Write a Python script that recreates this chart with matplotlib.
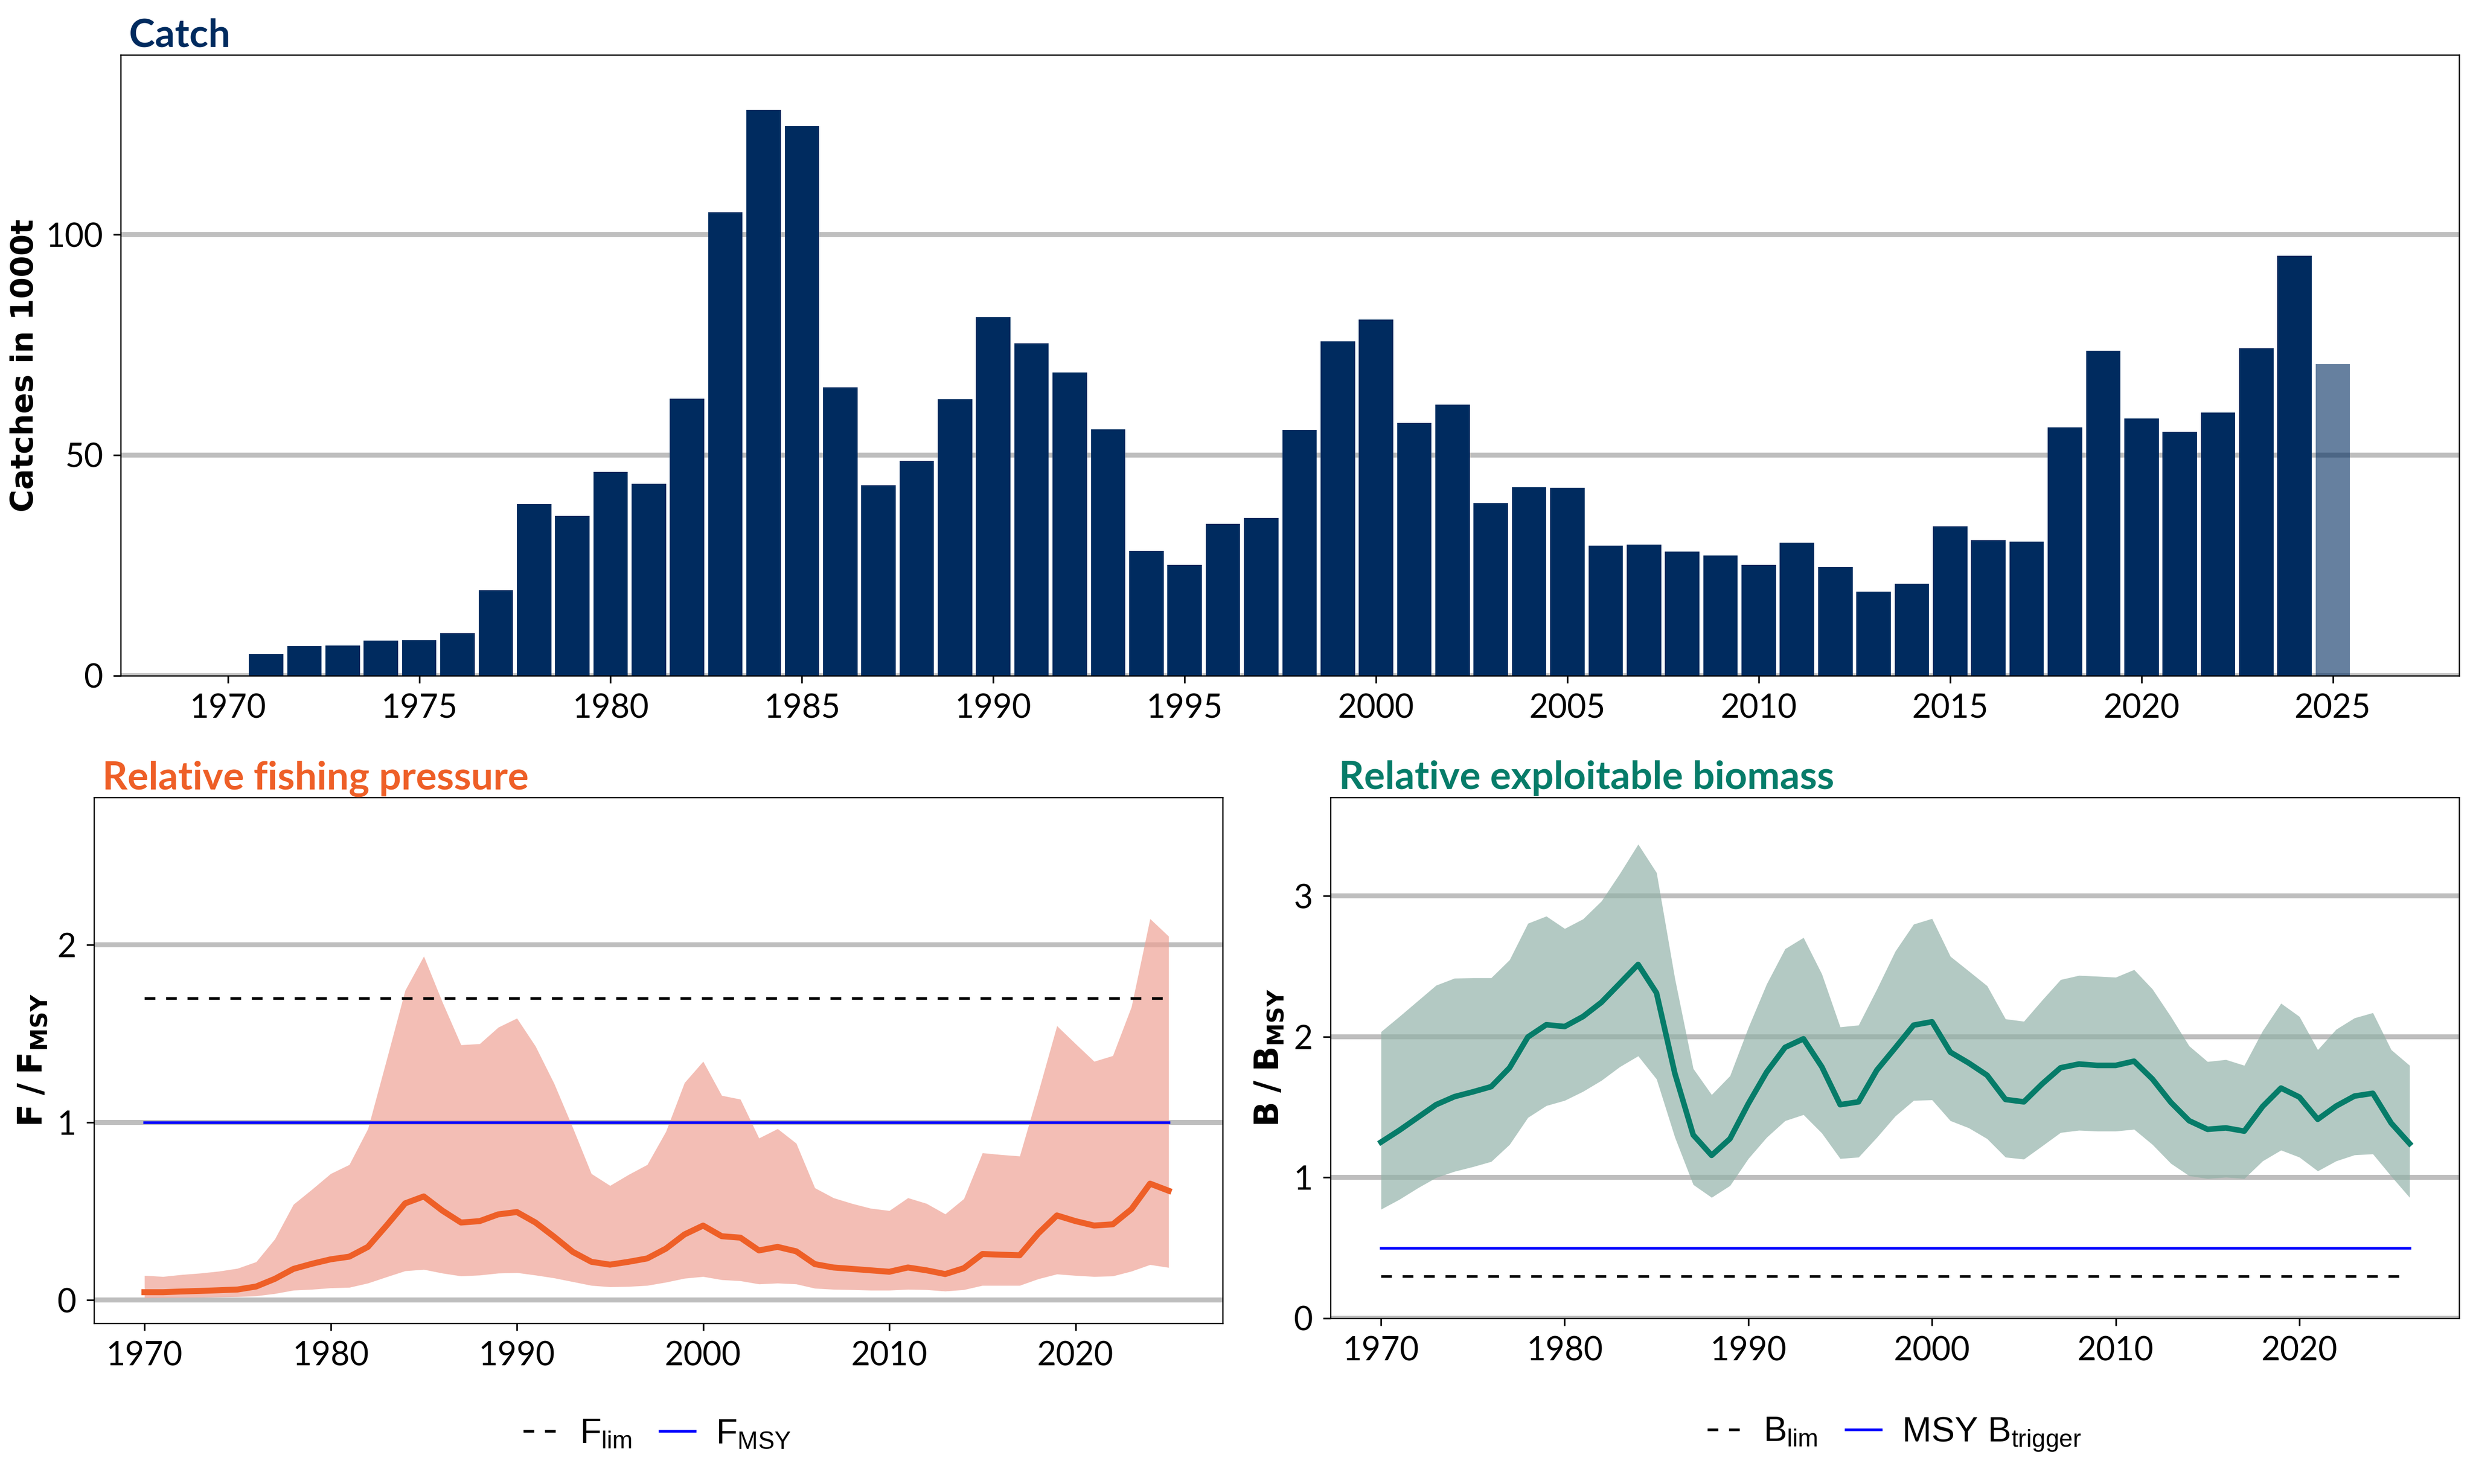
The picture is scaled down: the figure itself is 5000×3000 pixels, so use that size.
import numpy as np
import matplotlib
matplotlib.use("Agg")
import matplotlib.pyplot as plt

# ---- data ----
catch_years = list(range(1971, 2026))
catch = [4.9, 6.7, 6.8, 7.9, 8.1, 9.6, 19.4, 38.9, 36.2, 46.2,
         43.5, 62.8, 105.0, 128.3, 124.6, 65.3, 43.2, 48.6, 62.7, 81.3,
         75.3, 68.7, 55.8, 28.2, 25.1, 34.4, 35.7, 55.7, 75.8, 80.7,
         57.3, 61.4, 39.1, 42.7, 42.6, 29.5, 29.7, 28.1, 27.2, 25.1,
         30.1, 24.6, 19.1, 20.8, 33.9, 30.7, 30.4, 56.3, 73.6, 58.3,
         55.3, 59.6, 74.2, 95.2, 70.6]

f_years = list(range(1970, 2026))
f_mid = [0.045, 0.045, 0.049, 0.052, 0.056, 0.060, 0.077, 0.12, 0.176, 0.205,
         0.23, 0.245, 0.30, 0.42, 0.545, 0.584, 0.504, 0.437, 0.445, 0.483,
         0.496, 0.437, 0.357, 0.272, 0.216, 0.20, 0.216, 0.235, 0.29, 0.37,
         0.42, 0.36, 0.352, 0.28, 0.30, 0.275, 0.203, 0.184, 0.176, 0.168,
         0.16, 0.184, 0.168, 0.147, 0.18, 0.26, 0.256, 0.253, 0.376, 0.477,
         0.445, 0.42, 0.427, 0.512, 0.656, 0.616]
f_high = [0.139, 0.133, 0.144, 0.152, 0.163, 0.179, 0.216, 0.344, 0.539, 0.624,
          0.712, 0.763, 0.965, 1.352, 1.744, 1.936, 1.677, 1.437, 1.443, 1.536,
          1.587, 1.429, 1.219, 0.971, 0.712, 0.645, 0.707, 0.763, 0.949, 1.224,
          1.344, 1.152, 1.131, 0.912, 0.965, 0.883, 0.632, 0.576, 0.544, 0.517,
          0.504, 0.576, 0.544, 0.485, 0.571, 0.829, 0.819, 0.811, 1.171, 1.544,
          1.443, 1.344, 1.376, 1.651, 2.147, 2.048]
f_low = [0.013, 0.014, 0.015, 0.016, 0.018, 0.020, 0.024, 0.037, 0.056, 0.061,
         0.069, 0.072, 0.096, 0.131, 0.165, 0.173, 0.152, 0.136, 0.141, 0.152,
         0.155, 0.141, 0.125, 0.104, 0.083, 0.075, 0.077, 0.083, 0.101, 0.123,
         0.133, 0.115, 0.109, 0.091, 0.096, 0.091, 0.067, 0.061, 0.059, 0.056,
         0.056, 0.061, 0.059, 0.051, 0.059, 0.083, 0.083, 0.083, 0.12, 0.147,
         0.139, 0.133, 0.136, 0.163, 0.20, 0.184]
f_lim = 1.7
f_msy = 1.0

b_years = list(range(1970, 2027))
b_mid = [1.251, 1.335, 1.426, 1.517, 1.574, 1.608, 1.645, 1.779, 1.998, 2.085,
         2.072, 2.143, 2.244, 2.378, 2.513, 2.311, 1.739, 1.302, 1.157, 1.275,
         1.524, 1.749, 1.924, 1.985, 1.786, 1.517, 1.537, 1.763, 1.921, 2.082,
         2.106, 1.890, 1.813, 1.726, 1.554, 1.537, 1.665, 1.779, 1.806, 1.796,
         1.796, 1.826, 1.699, 1.534, 1.403, 1.342, 1.352, 1.329, 1.504, 1.635,
         1.571, 1.413, 1.507, 1.578, 1.598, 1.386, 1.241]
b_high = [2.035, 2.143, 2.254, 2.365, 2.415, 2.418, 2.418, 2.546, 2.805, 2.856,
          2.768, 2.836, 2.963, 3.158, 3.367, 3.165, 2.412, 1.773, 1.588, 1.722,
          2.065, 2.375, 2.624, 2.704, 2.445, 2.069, 2.082, 2.338, 2.607, 2.799,
          2.839, 2.570, 2.466, 2.361, 2.126, 2.109, 2.260, 2.405, 2.435, 2.429,
          2.422, 2.476, 2.338, 2.143, 1.934, 1.823, 1.837, 1.796, 2.042, 2.237,
          2.143, 1.907, 2.052, 2.133, 2.170, 1.907, 1.796]
b_low = [0.774, 0.844, 0.925, 0.999, 1.043, 1.076, 1.113, 1.234, 1.426, 1.510,
         1.547, 1.611, 1.689, 1.786, 1.863, 1.699, 1.285, 0.949, 0.858, 0.942,
         1.134, 1.285, 1.403, 1.446, 1.315, 1.134, 1.144, 1.285, 1.436, 1.547,
         1.551, 1.403, 1.352, 1.275, 1.144, 1.130, 1.224, 1.319, 1.335, 1.329,
         1.329, 1.342, 1.234, 1.100, 1.012, 0.992, 1.002, 0.992, 1.117, 1.194,
         1.144, 1.046, 1.117, 1.160, 1.167, 1.009, 0.858]
b_lim = 0.3
msy_btrigger = 0.5

# ---- style ----
navy = "#002b5f"
orange = "#ee5f27"
teal = "#067c69"
gridgrey = "#bebebe"

plt.rcParams["font.family"] = ["Lato", "DejaVu Sans"]
plt.rcParams["mathtext.fontset"] = "custom"
plt.rcParams["mathtext.rm"] = "Liberation Sans"
plt.rcParams["mathtext.it"] = "Liberation Sans:italic"
plt.rcParams["mathtext.bf"] = "DejaVu Sans:bold"
plt.rcParams["axes.linewidth"] = 0.6

fig = plt.figure(figsize=(50 / 3, 10), dpi=300)
ax1 = fig.add_axes([0.0488, 0.5447, 0.9456, 0.4183])
ax2 = fig.add_axes([0.038, 0.1083, 0.4564, 0.3544])
ax3 = fig.add_axes([0.538, 0.1117, 0.4564, 0.351])


def style(ax):
    ax.set_axisbelow(True)
    ax.grid(axis="y", color=gridgrey, linewidth=2.4)
    ax.tick_params(labelsize=16, length=3.6, width=0.8, pad=5, colors="black")


# catch bars
style(ax1)
ax1.bar(catch_years[:-1], catch[:-1], width=0.9, color=navy, zorder=2)
ax1.bar(catch_years[-1:], catch[-1:], width=0.9, color=navy, alpha=0.6, zorder=2)
ax1.set_xlim(1967.2, 2028.3)
ax1.set_ylim(0, 140.7)
ax1.set_xticks(range(1970, 2030, 5))
ax1.set_yticks([0, 50, 100])
ax1.set_ylabel("Catches in 1000t", fontsize=15, fontweight="bold",
               family="DejaVu Sans", labelpad=3)
ax1.annotate("Catch", xy=(0, 1), xycoords="axes fraction", xytext=(4, 4),
             textcoords="offset points", fontsize=19, fontweight="bold",
             color=navy, va="baseline")

# fishing pressure
style(ax2)
ax2.fill_between(f_years, f_low, f_high, color="#efa294", alpha=0.69,
                 linewidth=0, zorder=2)
ax2.plot(f_years, f_mid, color=orange, linewidth=2.9, zorder=3)
l_flim, = ax2.plot([f_years[0], f_years[-1]], [f_lim, f_lim], color="black",
                   linewidth=1.3, linestyle=(0, (4, 4)), zorder=4, label=r"F$_{\mathrm{lim}}$")
l_fmsy, = ax2.plot([f_years[0], f_years[-1]], [f_msy, f_msy], color="#0000ff",
                   linewidth=1.3, zorder=4, label=r"F$_{\mathrm{MSY}}$")
ax2.set_xlim(1967.29, 2027.9)
ax2.set_ylim(-0.13, 2.83)
ax2.set_xticks(range(1970, 2030, 10))
ax2.set_yticks([0, 1, 2])
ax2.set_ylabel(r"$\mathbf{F\ /\ F_{MSY}}$", fontsize=16, labelpad=4)
ax2.annotate("Relative fishing pressure", xy=(0, 1), xycoords="axes fraction",
             xytext=(4, 4), textcoords="offset points", fontsize=19,
             fontweight="bold", color=orange, va="baseline")
fig.legend(handles=[l_flim, l_fmsy], loc="center", bbox_to_anchor=(0.2658, 0.0333),
           ncol=2, frameon=False, prop={"family": "Liberation Sans", "size": 17},
           handlelength=1.0, handletextpad=0.6, columnspacing=0.8)

# biomass
style(ax3)
ax3.fill_between(b_years, b_low, b_high, color="#91b1a8", alpha=0.69,
                 linewidth=0, zorder=2)
ax3.plot(b_years, b_mid, color=teal, linewidth=2.7, zorder=3)
l_blim, = ax3.plot([b_years[0], b_years[-1]], [b_lim, b_lim], color="black",
                   linewidth=1.3, linestyle=(0, (4, 4)), zorder=4, label=r"B$_{\mathrm{lim}}$")
l_btrig, = ax3.plot([b_years[0], b_years[-1]], [msy_btrigger, msy_btrigger],
                    color="#0000ff", linewidth=1.3, zorder=4,
                    label=r"MSY B$_{\mathrm{trigger}}$")
ax3.set_xlim(1967.25, 2028.7)
ax3.set_ylim(0, 3.7)
ax3.set_xticks(range(1970, 2030, 10))
ax3.set_yticks([0, 1, 2, 3])
ax3.set_ylabel(r"$\mathbf{B\ /\ B_{MSY}}$", fontsize=16, labelpad=4)
ax3.annotate("Relative exploitable biomass", xy=(0, 1), xycoords="axes fraction",
             xytext=(4, 4), textcoords="offset points", fontsize=19,
             fontweight="bold", color=teal, va="baseline")
fig.legend(handles=[l_blim, l_btrig], loc="center", bbox_to_anchor=(0.766, 0.0333),
           ncol=2, frameon=False, prop={"family": "Liberation Sans", "size": 17},
           handlelength=1.0, handletextpad=0.6, columnspacing=0.8)

fig.savefig("out.png", dpi=300)
